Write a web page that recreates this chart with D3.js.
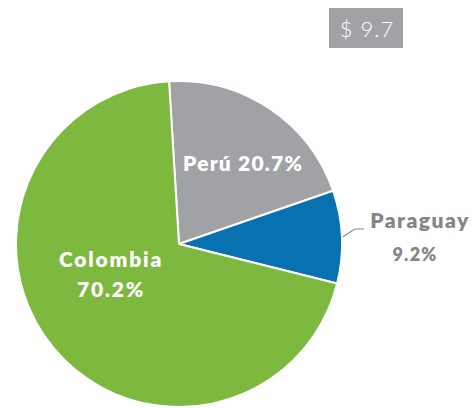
<!DOCTYPE html>
<html>
<head>
<meta charset="utf-8">
<script src="https://cdn.jsdelivr.net/npm/d3@7"></script>
<style>
  html, body { margin: 0; padding: 0; background: #fff; }
  svg { display: block; }
</style>
</head>
<body>
<svg id="chart" width="472" height="408"></svg>
<script>
// datos
const countries = ['Perú', 'Paraguay', 'Colombia']
const shares = [20.7, 9.2, 70.2]
const total = '$ 9.7'

const colors = ['#a1a2a5', '#0872b1', '#7db83f']

const svg = d3.select('#chart')
const cx = 179
const cy = 244
const radius = 163

// Perú arranca un poco a la izquierda del eje vertical
const startAngle = -3.5 * Math.PI / 180

const pie = d3.pie()
  .sort(null)
  .value(d => d)
  .startAngle(startAngle)
  .endAngle(startAngle + 2 * Math.PI)

const arc = d3.arc().innerRadius(0).outerRadius(radius)

const arcs = pie(shares)

const g = svg.append('g').attr('transform', `translate(${cx},${cy})`)

g.selectAll('path')
  .data(arcs)
  .enter()
  .append('path')
  .attr('d', arc)
  .attr('fill', (d, i) => colors[i])
  .attr('stroke', '#fff')
  .attr('stroke-width', 2)
  .attr('stroke-linejoin', 'round')

const fmt = v => d3.format('.1f')(v) + '%'
const font = 'Lato, "Open Sans", sans-serif'

// etiqueta Perú
g.append('text')
  .attr('x', 4)
  .attr('y', -73)
  .attr('font-family', font)
  .attr('font-weight', 800)
  .attr('font-size', 21)
  .attr('letter-spacing', 1.2)
  .attr('fill', '#fff')
  .text(`${countries[0]} ${fmt(shares[0])}`)

// etiqueta Colombia
const colText = g.append('text')
  .attr('text-anchor', 'middle')
  .attr('font-family', font)
  .attr('font-weight', 800)
  .attr('font-size', 21)
  .attr('letter-spacing', 1.8)
  .attr('fill', '#fff')
colText.append('tspan').attr('x', -68).attr('y', 23).text(countries[2])
colText.append('tspan').attr('x', -68).attr('y', 53).text(fmt(shares[2]))

// etiqueta Paraguay con línea guía
const pa = arcs[1]
const mid = (pa.startAngle + pa.endAngle) / 2
const p0 = [Math.sin(mid) * (radius + 1), -Math.cos(mid) * (radius + 1)]
const p1 = [176, -15]
const p2 = [185, -15]
g.append('path')
  .attr('d', `M${p0[0]},${p0[1]} L${p1[0]},${p1[1]} L${p2[0]},${p2[1]}`)
  .attr('fill', 'none')
  .attr('stroke', '#8a8a8a')
  .attr('stroke-width', 1.2)

const paText = g.append('text')
  .attr('text-anchor', 'middle')
  .attr('font-family', font)
  .attr('font-weight', 800)
  .attr('fill', '#858585')
paText.append('tspan').attr('x', 241).attr('y', -16)
  .attr('font-size', 21).attr('letter-spacing', 1.5).text(countries[1])
paText.append('tspan').attr('x', 236).attr('y', 17)
  .attr('font-size', 18).attr('letter-spacing', 1.2).text(fmt(shares[1]))

// caja del total
svg.append('rect')
  .attr('x', 329)
  .attr('y', 8)
  .attr('width', 74)
  .attr('height', 40)
  .attr('fill', '#a1a2a5')

svg.append('text')
  .attr('x', 367)
  .attr('y', 37)
  .attr('text-anchor', 'middle')
  .attr('font-family', font)
  .attr('font-weight', 300)
  .attr('font-size', 22)
  .attr('letter-spacing', 1)
  .attr('fill', '#fff')
  .text(total)
</script>
</body>
</html>
